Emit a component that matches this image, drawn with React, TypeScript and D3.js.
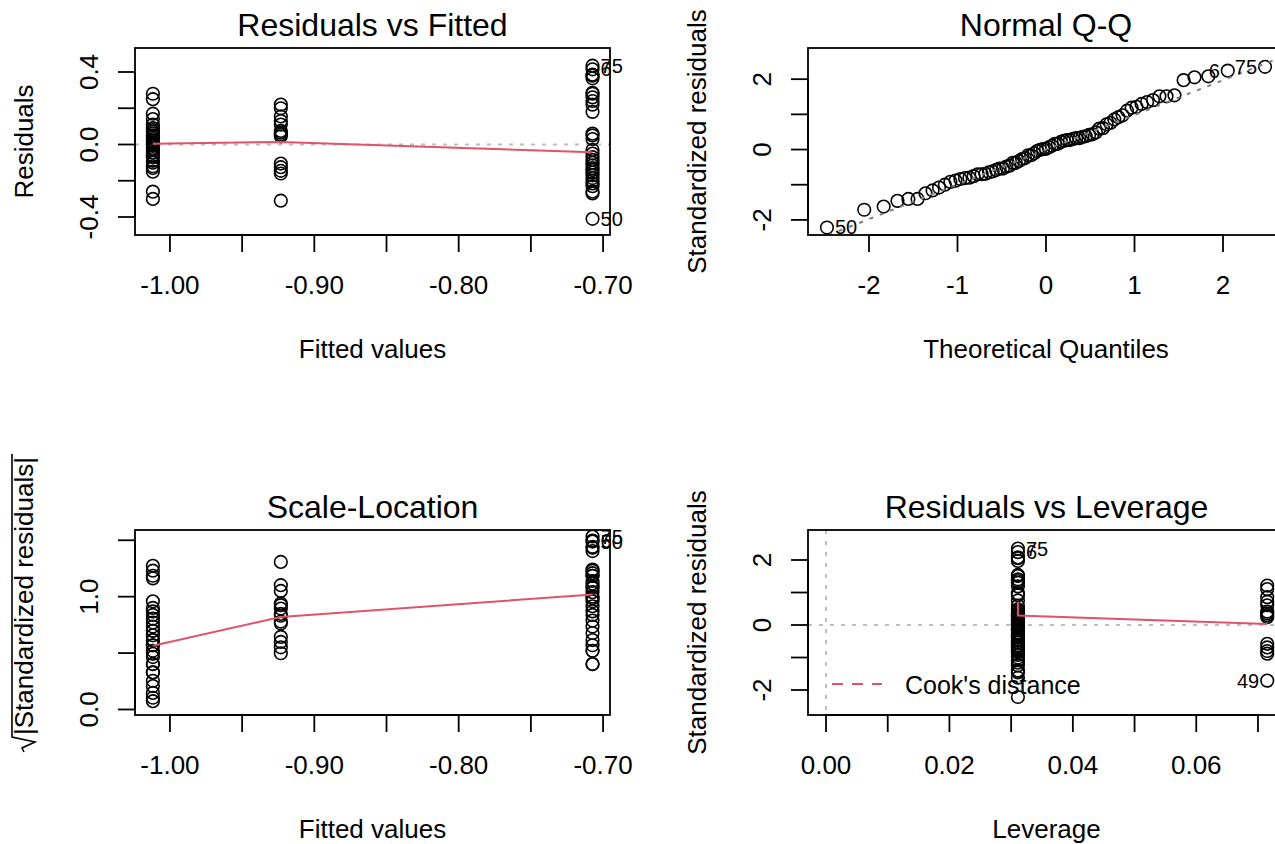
import React from "react";
import * as d3 from "d3";

// fitted value and leverage of the three groups of the model
const fittedLevels = [-1.0118, -0.9232, -0.7073];
const leverageLevels = [0.0311, 0.0715, 0.0311];
const residualSigma = 0.188;

const residualsA = [
  0.28, 0.25, 0.17, 0.14, 0.11, 0.09, 0.08, 0.07, 0.06, 0.05, 0.04, 0.03, 0.02, 0.012, 0.004,
  0.002, -0.001, -0.008, -0.02, -0.03, -0.045, -0.06, -0.07, -0.09, -0.1, -0.12, -0.13, -0.15,
  -0.26, -0.3,
];
const residualsB = [
  -0.31, 0.22, 0.2, 0.155, 0.13, 0.11, 0.075, 0.065, 0.055, 0.045, -0.16, -0.145, -0.125, -0.105,
];
const residualsC = [
  0.435, 0.415, 0.385, 0.38, 0.365, 0.285, 0.28, 0.26, 0.24, 0.22, 0.18, 0.06, 0.05, 0.03, -0.03,
  -0.05, -0.07, -0.085, -0.1, -0.115, -0.13, -0.14, -0.155, -0.17, -0.185, -0.2, -0.215, -0.23,
  -0.26, -0.27, -0.41,
];

// flagged observations: [label, group, index in group]
const idsLargest = [["75", 2, 0], ["6", 2, 1], ["50", 2, 30]];
const idsCook = [["75", 2, 0], ["6", 2, 1], ["49", 1, 0]];

// red smoother lines
const smoothFittedX = [-1.0118, -0.9232, -0.7073];
const smoothResidY = [0.004, 0.014, -0.043];
const smoothScaleY = [0.565, 0.82, 1.02];
const smoothLevX = [0.0311, 0.0311, 0.0715];
const smoothLevY = [0.71, 0.29, 0.03];

// ticks and their labels ("" = tick without label)
const fittedTicks = [-1.0, -0.95, -0.9, -0.85, -0.8, -0.75, -0.7];
const fittedTickLabels = ["-1.00", "", "-0.90", "", "-0.80", "", "-0.70"];
const residTicks = [-0.4, -0.2, 0, 0.2, 0.4];
const residTickLabels = ["-0.4", "", "0.0", "", "0.4"];
const quantTicks = [-2, -1, 0, 1, 2];
const quantTickLabels = ["-2", "-1", "0", "1", "2"];
const stdTicks = [-2, -1, 0, 1, 2];
const stdTickLabels = ["-2", "", "0", "", "2"];
const sqrtTicks = [0, 0.5, 1, 1.5];
const sqrtTickLabels = ["0.0", "", "1.0", ""];
const levTicks = [0, 0.01, 0.02, 0.03, 0.04, 0.05, 0.06, 0.07];
const levTickLabels = ["0.00", "", "0.02", "", "0.04", "", "0.06", ""];

const FONT = "'Liberation Sans', Arial, Helvetica, sans-serif";
const RED = "#DF536B";

function qnorm(p: number) {
  const a = [-39.69683028665376, 220.9460984245205, -275.9285104469687, 138.357751867269, -30.66479806614716, 2.506628277459239];
  const b = [-54.47609879822406, 161.5858368580409, -155.6989798598866, 66.80131188771972, -13.28068155288572];
  const c = [-0.007784894002430293, -0.3223964580411365, -2.400758277161838, -2.549732539343734, 4.374664141464968, 2.938163982698783];
  const d = [0.007784695709041462, 0.3224671290700398, 2.445134137142996, 3.754408661907416];
  const pl = 0.02425;
  if (p < pl) {
    const q = Math.sqrt(-2 * Math.log(p));
    return (((((c[0] * q + c[1]) * q + c[2]) * q + c[3]) * q + c[4]) * q + c[5]) / ((((d[0] * q + d[1]) * q + d[2]) * q + d[3]) * q + 1);
  }
  if (p <= 1 - pl) {
    const q = p - 0.5;
    const r = q * q;
    return ((((((a[0] * r + a[1]) * r + a[2]) * r + a[3]) * r + a[4]) * r + a[5]) * q) / (((((b[0] * r + b[1]) * r + b[2]) * r + b[3]) * r + b[4]) * r + 1);
  }
  const q = Math.sqrt(-2 * Math.log(1 - p));
  return -(((((c[0] * q + c[1]) * q + c[2]) * q + c[3]) * q + c[4]) * q + c[5]) / ((((d[0] * q + d[1]) * q + d[2]) * q + d[3]) * q + 1);
}

const obs = [residualsA, residualsB, residualsC].flatMap((rs, g) =>
  rs.map((r, i) => ({
    g,
    i,
    fitted: fittedLevels[g],
    h: leverageLevels[g],
    r,
    std: r / (residualSigma * Math.sqrt(1 - leverageLevels[g])),
  }))
);
const sortedStd = [...obs].sort((a, b) => a.std - b.std);
const qq = sortedStd.map((o, k) => ({ ...o, theo: qnorm((k + 0.5) / sortedStd.length) }));
const stdValues = sortedStd.map((o) => o.std);
const q1 = d3.quantile(stdValues, 0.25) as number;
const q3 = d3.quantile(stdValues, 0.75) as number;
const qqSlope = (q3 - q1) / (qnorm(0.75) - qnorm(0.25));
const qqIntercept = q1 - qqSlope * qnorm(0.25);

const findObs = (g: number, i: number) => obs.find((o) => o.g === g && o.i === i)!;

type Box = { left: number; right: number; top: number; bottom: number };

function Panel(props: any) {
  const { box, x, y, xTicks, xLabels, yTicks, yLabels, title, xlab, ylab, id, children, overlay } = props;
  const b: Box = box;
  const cx = (b.left + b.right) / 2;
  const cy = (b.top + b.bottom) / 2;
  return (
    <g>
      <clipPath id={id}>
        <rect x={b.left} y={b.top} width={b.right - b.left} height={b.bottom - b.top} />
      </clipPath>
      <g clipPath={`url(#${id})`}>{children}</g>
      {overlay}
      <rect x={b.left} y={b.top} width={b.right - b.left} height={b.bottom - b.top} fill="none" stroke="#000" strokeWidth={1.8} />
      <line x1={x(xTicks[0])} x2={x(xTicks[xTicks.length - 1])} y1={b.bottom} y2={b.bottom} stroke="#000" strokeWidth={1.8} />
      {xTicks.map((t: number, k: number) => (
        <g key={"x" + k}>
          <line x1={x(t)} x2={x(t)} y1={b.bottom} y2={b.bottom + 17} stroke="#000" strokeWidth={1.8} />
          <text x={x(t)} y={b.bottom + 59} textAnchor="middle" fontSize={26}>{xLabels[k]}</text>
        </g>
      ))}
      <line y1={y(yTicks[0])} y2={y(yTicks[yTicks.length - 1])} x1={b.left} x2={b.left} stroke="#000" strokeWidth={1.8} />
      {yTicks.map((t: number, k: number) => (
        <g key={"y" + k}>
          <line y1={y(t)} y2={y(t)} x1={b.left} x2={b.left - 17} stroke="#000" strokeWidth={1.8} />
          <text transform={`translate(${b.left - 37},${y(t)}) rotate(-90)`} textAnchor="middle" fontSize={26}>{yLabels[k]}</text>
        </g>
      ))}
      <text x={cx} y={b.top - 12} textAnchor="middle" fontSize={32}>{title}</text>
      <text x={cx} y={b.bottom + 123} textAnchor="middle" fontSize={26}>{xlab}</text>
      {typeof ylab === "string" ? (
        <text transform={`translate(${b.left - 102},${cy}) rotate(-90)`} textAnchor="middle" fontSize={26}>{ylab}</text>
      ) : (
        ylab
      )}
    </g>
  );
}

function Points({ data, x, y }: any) {
  return (
    <g>
      {data.map((d: any, k: number) => (
        <circle key={k} cx={x(d[0])} cy={y(d[1])} r={6.3} fill="none" stroke="#000" strokeWidth={1.6} />
      ))}
    </g>
  );
}

function IdLabels({ items, x, y, side }: any) {
  return (
    <g>
      {items.map((d: any, k: number) => {
        const left = typeof side === "function" ? side(d) : side === "left";
        return (
          <text key={k} x={x(d.px) + (left ? -8 : 8)} y={y(d.py)} dy="0.35em" textAnchor={left ? "end" : "start"} fontSize={20}>
            {d.label}
          </text>
        );
      })}
    </g>
  );
}

export default function App() {
  const W = 1275;
  const H = 844;

  const b1: Box = { left: 135, right: 610, top: 48, bottom: 235 };
  const b2: Box = { left: 808, right: 1284, top: 48, bottom: 235 };
  const b3: Box = { left: 135, right: 610, top: 530, bottom: 715 };
  const b4: Box = { left: 808, right: 1285, top: 530, bottom: 715 };

  const x1 = d3.scaleLinear().domain([-1.0242, -0.6952]).range([b1.left, b1.right]);
  const y1 = d3.scaleLinear().domain([-0.4993, 0.5324]).range([b1.bottom, b1.top]);
  const x2 = d3.scaleLinear().domain([-2.689, 2.689]).range([b2.left, b2.right]);
  const y2 = d3.scaleLinear().domain([-2.429, 2.886]).range([b2.bottom, b2.top]);
  const x3 = d3.scaleLinear().domain([-1.0242, -0.6952]).range([b3.left, b3.right]);
  const y3 = d3.scaleLinear().domain([-0.049, 1.591]).range([b3.bottom, b3.top]);
  const x4 = d3.scaleLinear().domain([-0.00292, 0.07438]).range([b4.left, b4.right]);
  const y4 = d3.scaleLinear().domain([-2.769, 2.923]).range([b4.bottom, b4.top]);

  const line = (xs: any, ys: any, X: any, Y: any) =>
    d3.line<number>().x((_, k) => X(xs[k])).y((d) => Y(d))(ys) as string;

  const lab1 = idsLargest.map(([label, g, i]) => {
    const o = findObs(g as number, i as number);
    return { label, px: o.fitted, py: o.r };
  });
  const lab2 = idsLargest.map(([label, g, i]) => {
    const o = qq.find((q) => q.g === g && q.i === i)!;
    return { label, px: o.theo, py: o.std };
  });
  const lab3 = idsLargest.map(([label, g, i]) => {
    const o = findObs(g as number, i as number);
    return { label, px: o.fitted, py: Math.sqrt(Math.abs(o.std)) };
  });
  const lab4 = idsCook.map(([label, g, i]) => {
    const o = findObs(g as number, i as number);
    return { label, px: o.h, py: o.std };
  });

  const [qx0, qx1] = x2.domain();

  const sqrtYlab = (
    <g transform={`translate(${b3.left - 102},735) rotate(-90)`}>
      <path d="M -17,-9 L -13,-11 L -7,2 L -2,-21 L 281,-21" fill="none" stroke="#000" strokeWidth={1.6} />
      <text x={0} y={0} fontSize={26}>|Standardized residuals|</text>
    </g>
  );

  return (
    <div style={{ position: "absolute", left: 0, top: 0 }}>
      <svg width={W} height={H} style={{ display: "block", fontFamily: FONT, background: "#fff" }}>
        <Panel
          id="c1" box={b1} x={x1} y={y1}
          xTicks={fittedTicks} xLabels={fittedTickLabels} yTicks={residTicks} yLabels={residTickLabels}
          title="Residuals vs Fitted" xlab="Fitted values" ylab="Residuals"
          overlay={<IdLabels items={lab1} x={x1} y={y1} side="right" />}
        >
          <line x1={b1.left} x2={b1.right} y1={y1(0)} y2={y1(0)} stroke="#BEBEBE" strokeWidth={2} strokeDasharray="4 7" />
          <Points data={obs.map((o) => [o.fitted, o.r])} x={x1} y={y1} />
          <path d={line(smoothFittedX, smoothResidY, x1, y1)} fill="none" stroke={RED} strokeWidth={2} />
        </Panel>

        <Panel
          id="c2" box={b2} x={x2} y={y2}
          xTicks={quantTicks} xLabels={quantTickLabels} yTicks={stdTicks} yLabels={stdTickLabels}
          title="Normal Q-Q" xlab="Theoretical Quantiles" ylab="Standardized residuals"
          overlay={<IdLabels items={lab2} x={x2} y={y2} side={(d: any) => d.px > 0} />}
        >
          <Points data={qq.map((o) => [o.theo, o.std])} x={x2} y={y2} />
          <line
            x1={x2(qx0)} x2={x2(qx1)}
            y1={y2(qqIntercept + qqSlope * qx0)} y2={y2(qqIntercept + qqSlope * qx1)}
            stroke="#7F7F7F" strokeWidth={2} strokeDasharray="4 7"
          />
        </Panel>

        <Panel
          id="c3" box={b3} x={x3} y={y3}
          xTicks={fittedTicks} xLabels={fittedTickLabels} yTicks={sqrtTicks} yLabels={sqrtTickLabels}
          title="Scale-Location" xlab="Fitted values" ylab={sqrtYlab}
          overlay={<IdLabels items={lab3} x={x3} y={y3} side="right" />}
        >
          <Points data={obs.map((o) => [o.fitted, Math.sqrt(Math.abs(o.std))])} x={x3} y={y3} />
          <path d={line(smoothFittedX, smoothScaleY, x3, y3)} fill="none" stroke={RED} strokeWidth={2} />
        </Panel>

        <Panel
          id="c4" box={b4} x={x4} y={y4}
          xTicks={levTicks} xLabels={levTickLabels} yTicks={stdTicks} yLabels={stdTickLabels}
          title="Residuals vs Leverage" xlab="Leverage" ylab="Standardized residuals"
          overlay={
            <g>
              <IdLabels items={lab4} x={x4} y={y4} side={(d: any) => d.px > 0.036} />
              <line x1={832} x2={882} y1={684} y2={684} stroke={RED} strokeWidth={2} strokeDasharray="11 9" />
              <text x={905} y={694} fontSize={25}>Cook's distance</text>
            </g>
          }
        >
          <line x1={b4.left} x2={b4.right} y1={y4(0)} y2={y4(0)} stroke="#BEBEBE" strokeWidth={2} strokeDasharray="4 7" />
          <line x1={x4(0)} x2={x4(0)} y1={b4.top} y2={b4.bottom} stroke="#BEBEBE" strokeWidth={2} strokeDasharray="4 7" />
          <Points data={obs.map((o) => [o.h, o.std])} x={x4} y={y4} />
          <path d={line(smoothLevX, smoothLevY, x4, y4)} fill="none" stroke={RED} strokeWidth={2} />
        </Panel>
      </svg>
    </div>
  );
}
